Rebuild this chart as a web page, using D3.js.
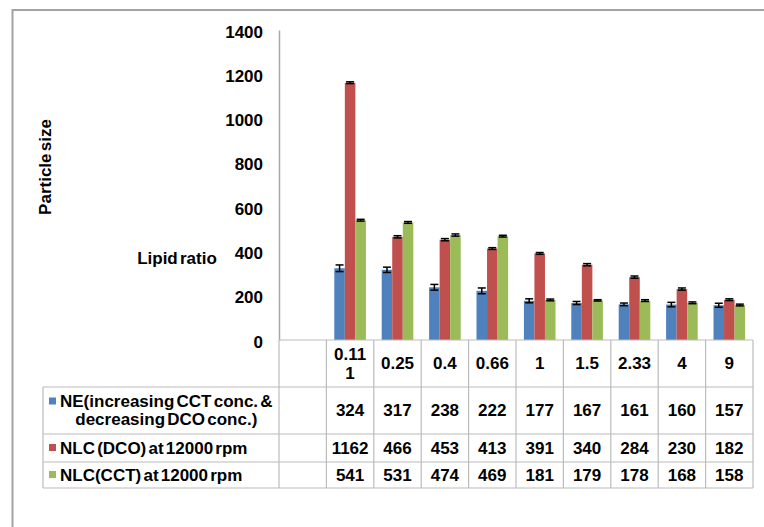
<!DOCTYPE html>
<html>
<head>
<meta charset="utf-8">
<script src="https://cdn.jsdelivr.net/npm/d3@7"></script>
<style>
  html, body { margin: 0; padding: 0; background: #fff; }
  svg { display: block; font-family: "Liberation Sans", Arial, sans-serif; font-weight: bold; word-spacing: -2.5px; }
</style>
</head>
<body>
<svg id="chart" width="764" height="527"></svg>
<script>
// Lipid ratios (x categories)
const categories = ["0.111", "0.25", "0.4", "0.66", "1", "1.5", "2.33", "4", "9"];
// Header text shown for each ratio (0.111 wraps onto two lines)
const headerLines = [["0.11", "1"], ["0.25"], ["0.4"], ["0.66"], ["1"], ["1.5"], ["2.33"], ["4"], ["9"]];

const seriesNames = ["NE", "NLC_DCO", "NLC_CCT"];
const seriesLegend = [
  ["NE(increasing CCT conc. &", "decreasing DCO conc.)"],
  ["NLC (DCO) at 12000 rpm"],
  ["NLC(CCT) at 12000 rpm"]
];
const seriesColors = ["#4F81BD", "#C0504D", "#9BBB59"];

// Particle size values
const neValues     = [324, 317, 238, 222, 177, 167, 161, 160, 157];
const nlcDcoValues = [1162, 466, 453, 413, 391, 340, 284, 230, 182];
const nlcCctValues = [541, 531, 474, 469, 181, 179, 178, 168, 158];

// Standard deviations (error bars)
const neErrors     = [15, 12, 13, 13, 9, 7, 6, 10, 9];
const nlcDcoErrors = [4, 5, 5, 4, 4, 5, 5, 5, 4];
const nlcCctErrors = [4, 4, 5, 4, 4, 3, 4, 4, 4];

const yTicks = [0, 200, 400, 600, 800, 1000, 1200, 1400];

const valuesBySeries = [neValues, nlcDcoValues, nlcCctValues];
const errorsBySeries = [neErrors, nlcDcoErrors, nlcCctErrors];

const svg = d3.select("#chart");

// Outer chart frame
svg.append("rect")
  .attr("x", 12.5).attr("y", 10)
  .attr("width", 800).attr("height", 600)
  .attr("fill", "none").attr("stroke", "#a3a3a3").attr("stroke-width", 2);

const plotLeft = 279, plotRight = 753, plotTop = 30, plotBase = 340;
// Leading blank slot corresponds to the empty first column of the data table
const xDomain = [""].concat(categories);
const x = d3.scaleBand().domain(xDomain).range([plotLeft, plotRight]).paddingInner(0).paddingOuter(0);
const xs = d3.scaleBand().domain(seriesNames).range([0, x.bandwidth()]).paddingInner(0).paddingOuter(0.75);
const y = d3.scaleLinear().domain([0, 1400]).range([plotBase, plotTop]);

// Y axis
const yAxis = d3.axisLeft(y).tickValues(yTicks).tickSize(0).tickPadding(16).tickFormat(d3.format("d"));
const gy = svg.append("g").attr("transform", `translate(${plotLeft},0)`).call(yAxis);
gy.select(".domain").attr("stroke", "#a6a6a6").attr("stroke-width", 1.5);
gy.selectAll("text").attr("font-size", 17).attr("font-weight", "bold").attr("fill", "#000")
  .attr("font-family", "Liberation Sans, Arial, sans-serif").attr("dy", "0.42em");

// Axis titles
svg.append("text")
  .attr("transform", "translate(51,167) rotate(-90)")
  .attr("text-anchor", "middle").attr("font-size", 17).text("Particle size");
svg.append("text")
  .attr("x", 177).attr("y", 264)
  .attr("text-anchor", "middle").attr("font-size", 17).text("Lipid ratio");

// Bars
const barData = [];
categories.forEach((c, i) => {
  seriesNames.forEach((s, k) => {
    barData.push({ cat: c, series: s, k, value: valuesBySeries[k][i], err: errorsBySeries[k][i] });
  });
});

svg.append("g").selectAll("rect").data(barData).join("rect")
  .attr("x", d => x(d.cat) + xs(d.series))
  .attr("y", d => y(d.value))
  .attr("width", xs.bandwidth())
  .attr("height", d => y(0) - y(d.value))
  .attr("fill", d => seriesColors[d.k]);

// Error bars
const capHalf = 4;
const eg = svg.append("g").attr("stroke", "#000").attr("stroke-width", 1.5);
barData.forEach(d => {
  const cx = x(d.cat) + xs(d.series) + xs.bandwidth() / 2;
  const y1 = y(d.value + d.err), y2 = y(d.value - d.err);
  eg.append("line").attr("x1", cx).attr("x2", cx).attr("y1", y1).attr("y2", y2);
  eg.append("line").attr("x1", cx - capHalf).attr("x2", cx + capHalf).attr("y1", y1).attr("y2", y1);
  eg.append("line").attr("x1", cx - capHalf).attr("x2", cx + capHalf).attr("y1", y2).attr("y2", y2);
});

// Data table
const rowEdges = [plotBase, 387, 434, 462, 488];
const legendLeft = 43;
const grid = svg.append("g").attr("stroke", "#bcbcbc").attr("stroke-width", 1.2).attr("fill", "none");
// horizontal lines
grid.append("line").attr("x1", plotLeft).attr("x2", plotRight).attr("y1", rowEdges[0]).attr("y2", rowEdges[0]);
for (let r = 1; r < rowEdges.length; r++) {
  grid.append("line").attr("x1", legendLeft).attr("x2", plotRight).attr("y1", rowEdges[r]).attr("y2", rowEdges[r]);
}
// vertical lines
grid.append("line").attr("x1", legendLeft).attr("x2", legendLeft).attr("y1", rowEdges[1]).attr("y2", rowEdges[4]);
xDomain.forEach(c => {
  const xv = x(c);
  grid.append("line").attr("x1", xv).attr("x2", xv).attr("y1", rowEdges[0]).attr("y2", rowEdges[4]);
});
grid.append("line").attr("x1", plotRight).attr("x2", plotRight).attr("y1", rowEdges[0]).attr("y2", rowEdges[4]);

// Header row (lipid ratios)
const head = svg.append("g").attr("font-size", 17).attr("text-anchor", "middle");
categories.forEach((c, i) => {
  const cx = x(c) + x.bandwidth() / 2;
  const lines = headerLines[i];
  const mid = (rowEdges[0] + rowEdges[1]) / 2;
  const lh = 19;
  lines.forEach((t, j) => {
    head.append("text").attr("x", cx)
      .attr("y", mid + (j - (lines.length - 1) / 2) * lh)
      .attr("dy", "0.35em").text(t);
  });
});

// Value rows
const body = svg.append("g").attr("font-size", 17).attr("text-anchor", "middle");
valuesBySeries.forEach((vals, k) => {
  const mid = (rowEdges[k + 1] + rowEdges[k + 2]) / 2;
  categories.forEach((c, i) => {
    body.append("text").attr("x", x(c) + x.bandwidth() / 2).attr("y", mid).attr("dy", "0.35em").text(vals[i]);
  });
});

// Legend cells
const leg = svg.append("g").attr("font-size", 17);
seriesLegend.forEach((lines, k) => {
  const mid = (rowEdges[k + 1] + rowEdges[k + 2]) / 2;
  const lh = 18;
  const y0 = mid - (lines.length - 1) / 2 * lh;
  leg.append("rect").attr("x", 49).attr("y", y0 - 4).attr("width", 7).attr("height", 7).attr("fill", seriesColors[k]);
  const first = leg.append("text").attr("x", 60).attr("y", y0).attr("dy", "0.35em").text(lines[0]);
  const w = first.node().getComputedTextLength();
  const center = 60 + w / 2;
  for (let j = 1; j < lines.length; j++) {
    leg.append("text").attr("x", center).attr("y", y0 + j * lh).attr("dy", "0.35em")
      .attr("text-anchor", "middle").text(lines[j]);
  }
});
</script>
</body>
</html>
